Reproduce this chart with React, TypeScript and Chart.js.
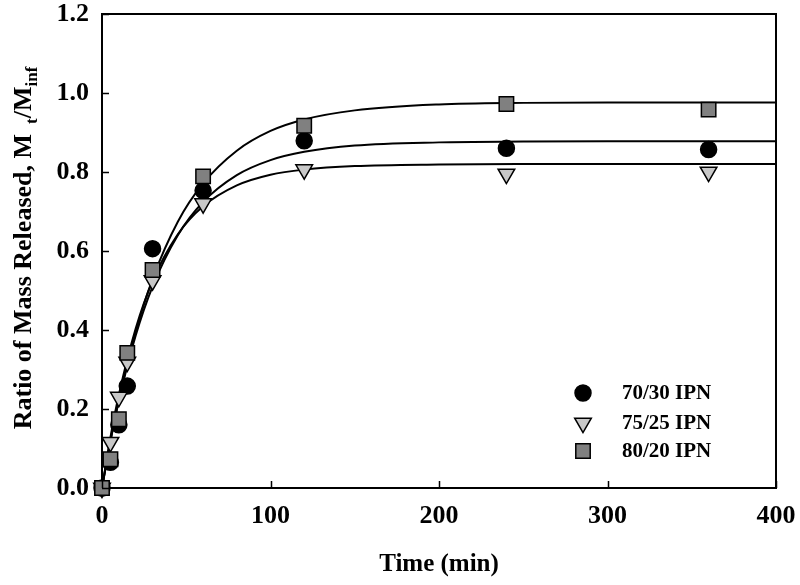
import React, { useEffect, useRef } from "react";
import { Chart, registerables } from "chart.js";

Chart.register(...registerables);

// Measured release data (time in min)
const times = [0, 5, 10, 15, 30, 60, 120, 240, 360];
const ipn7030 = [0.0, 0.065, 0.16, 0.258, 0.606, 0.753, 0.879, 0.86, 0.857];
const ipn7525 = [0.0, 0.116, 0.23, 0.319, 0.525, 0.72, 0.806, 0.795, 0.8];
const ipn8020 = [0.0, 0.073, 0.174, 0.342, 0.552, 0.789, 0.917, 0.972, 0.958];

// Fitted curves
const fitTimes = [0, 5, 10, 20, 30, 45, 60, 80, 100, 120, 150, 200, 250, 300, 400];
const fit7030 = [0, 0.118, 0.221, 0.386, 0.51, 0.64, 0.724, 0.792, 0.83, 0.851, 0.867, 0.875, 0.877, 0.878, 0.878];
const fit7525 = [0, 0.128, 0.236, 0.404, 0.524, 0.642, 0.713, 0.766, 0.793, 0.806, 0.815, 0.819, 0.82, 0.82, 0.82];
const fit8020 = [0, 0.119, 0.224, 0.395, 0.529, 0.674, 0.771, 0.854, 0.904, 0.933, 0.956, 0.971, 0.975, 0.976, 0.976];

const seriesLabels = ["70/30 IPN", "75/25 IPN", "80/20 IPN"];
const xTicks = [0, 100, 200, 300, 400];
const yTicks = [0, 0.2, 0.4, 0.6, 0.8, 1.0, 1.2];
const xTitle = "Time (min)";
const yTitleMain = "Ratio of Mass Released, M";
const yTitleSub1 = "t";
const yTitleMid = "/M";
const yTitleSub2 = "inf";

const FONT = "'Liberation Serif', 'Times New Roman', serif";

const pts = (xs: number[], ys: number[]) => xs.map((x, i) => ({ x, y: ys[i] }));

const markerStyles = [
  { pointStyle: "circle", radius: 8, fill: "#000000", rotation: 0, order: 3 },
  { pointStyle: "triangle", radius: 9.6, fill: "#c8c8c8", rotation: 180, order: 2 },
  { pointStyle: "rect", radius: 10.2, fill: "#808080", rotation: 0, order: 1 },
];

function drawMarker(ctx: CanvasRenderingContext2D, style: string, x: number, y: number, r: number, fill: string) {
  ctx.save();
  ctx.fillStyle = fill;
  ctx.strokeStyle = "#000";
  ctx.lineWidth = 1.5;
  ctx.beginPath();
  if (style === "circle") {
    ctx.arc(x, y, r, 0, Math.PI * 2);
  } else if (style === "triangle") {
    let rad = Math.PI;
    ctx.moveTo(x + Math.sin(rad) * r, y - Math.cos(rad) * r);
    rad += (2 * Math.PI) / 3;
    ctx.lineTo(x + Math.sin(rad) * r, y - Math.cos(rad) * r);
    rad += (2 * Math.PI) / 3;
    ctx.lineTo(x + Math.sin(rad) * r, y - Math.cos(rad) * r);
    ctx.closePath();
  } else {
    const s = Math.SQRT1_2 * r;
    ctx.rect(x - s, y - s, 2 * s, 2 * s);
  }
  ctx.fill();
  ctx.stroke();
  ctx.restore();
}

const framePlugin = {
  id: "frameAndText",
  afterDraw(chart: any) {
    const { ctx, chartArea, scales } = chart;
    const { left, right, top, bottom } = chartArea;
    ctx.save();
    ctx.strokeStyle = "#000";
    ctx.lineWidth = 2;
    ctx.beginPath();
    ctx.moveTo(left, top);
    ctx.lineTo(right, top);
    ctx.lineTo(right, bottom);
    ctx.stroke();
    // inward ticks
    ctx.lineWidth = 1.5;
    ctx.beginPath();
    xTicks.forEach((v) => {
      const px = Math.round(scales.x.getPixelForValue(v)) + 0.5;
      ctx.moveTo(px, bottom);
      ctx.lineTo(px, bottom - 7);
    });
    yTicks.forEach((v) => {
      const py = Math.round(scales.y.getPixelForValue(v)) + 0.5;
      ctx.moveTo(left, py);
      ctx.lineTo(left + 7, py);
    });
    ctx.stroke();

    // x title
    ctx.fillStyle = "#000";
    ctx.font = `bold 25px ${FONT}`;
    ctx.textAlign = "center";
    ctx.textBaseline = "middle";
    ctx.fillText(xTitle, (left + right) / 2, 565);

    // y title with subscripts
    ctx.save();
    const bigFont = `bold 26px ${FONT}`;
    const smallFont = `bold 17px ${FONT}`;
    ctx.font = bigFont;
    const w1 = ctx.measureText(yTitleMain).width;
    const gap = 10;
    ctx.font = smallFont;
    const w2 = ctx.measureText(yTitleSub1).width;
    const w4 = ctx.measureText(yTitleSub2).width;
    ctx.font = bigFont;
    const w3 = ctx.measureText(yTitleMid).width;
    const total = w1 + gap + w2 + w3 + w4;
    const cy = 248;
    ctx.translate(31, cy);
    ctx.rotate(-Math.PI / 2);
    ctx.textAlign = "left";
    ctx.textBaseline = "alphabetic";
    let xx = -total / 2;
    ctx.font = bigFont;
    ctx.fillText(yTitleMain, xx, 0);
    xx += w1 + gap;
    ctx.font = smallFont;
    ctx.fillText(yTitleSub1, xx, 6);
    xx += w2;
    ctx.font = bigFont;
    ctx.fillText(yTitleMid, xx, 0);
    xx += w3;
    ctx.font = smallFont;
    ctx.fillText(yTitleSub2, xx, 6);
    ctx.restore();

    // legend
    const lx = 583;
    const rows = [393, 423, 451];
    ctx.font = `bold 21px ${FONT}`;
    ctx.textAlign = "left";
    ctx.textBaseline = "middle";
    seriesLabels.forEach((label, i) => {
      const m = markerStyles[i];
      drawMarker(ctx, m.pointStyle, lx, rows[i], m.radius, m.fill);
      ctx.fillStyle = "#000";
      ctx.fillText(label, 622, rows[i] + 1);
    });
    ctx.restore();
  },
};

export default function App() {
  const ref = useRef<HTMLCanvasElement | null>(null);
  useEffect(() => {
    if (!ref.current) return;
    const lineDs = (data: number[]) => ({
      type: "line" as const,
      data: pts(fitTimes, data),
      borderColor: "#000",
      borderWidth: 2,
      pointRadius: 0,
      fill: false,
      cubicInterpolationMode: "monotone" as const,
      order: 4,
    });
    const markDs = (label: string, data: number[], i: number) => ({
      type: "scatter" as const,
      label,
      data: pts(times, data),
      pointStyle: markerStyles[i].pointStyle,
      pointRadius: markerStyles[i].radius,
      pointRotation: markerStyles[i].rotation,
      backgroundColor: markerStyles[i].fill,
      borderColor: "#000",
      borderWidth: 1.5,
      showLine: false,
      clip: false,
      order: markerStyles[i].order,
    });
    const chart = new Chart(ref.current, {
      type: "scatter",
      data: {
        datasets: [
          lineDs(fit7030),
          lineDs(fit7525),
          lineDs(fit8020),
          markDs(seriesLabels[0], ipn7030, 0),
          markDs(seriesLabels[1], ipn7525, 1),
          markDs(seriesLabels[2], ipn8020, 2),
        ] as any,
      },
      options: {
        animation: false,
        responsive: false,
        layout: { padding: { left: 0, top: 14, right: 24, bottom: 0 } },
        plugins: { legend: { display: false }, tooltip: { enabled: false } },
        scales: {
          x: {
            type: "linear",
            min: 0,
            max: 400,
            afterFit: (s: any) => {
              s.height = 97;
              s.paddingLeft = 0;
              s.paddingRight = 0;
            },
            afterBuildTicks: (s: any) => {
              s.ticks = xTicks.map((v) => ({ value: v }));
            },
            ticks: {
              color: "#000",
              font: { family: FONT, size: 26, weight: "bold" },
              padding: 13,
              maxRotation: 0,
              callback: (v: any) => String(v),
            },
            grid: { display: false, drawTicks: false },
            border: { display: true, color: "#000", width: 2 },
          },
          y: {
            type: "linear",
            min: 0,
            max: 1.2,
            afterFit: (s: any) => {
              s.width = 102;
              s.paddingTop = 0;
              s.paddingBottom = 0;
            },
            afterBuildTicks: (s: any) => {
              s.ticks = yTicks.map((v) => ({ value: v }));
            },
            ticks: {
              color: "#000",
              font: { family: FONT, size: 26, weight: "bold" },
              padding: 13,
              callback: (v: any) => Number(v).toFixed(1),
            },
            grid: { display: false, drawTicks: false },
            border: { display: true, color: "#000", width: 2 },
          },
        },
      } as any,
      plugins: [framePlugin],
    });
    return () => chart.destroy();
  }, []);
  return (
    <div style={{ position: "absolute", left: 0, top: 0, width: 800, height: 585, background: "#fff" }}>
      <canvas ref={ref} width={800} height={585} style={{ display: "block" }} />
    </div>
  );
}
